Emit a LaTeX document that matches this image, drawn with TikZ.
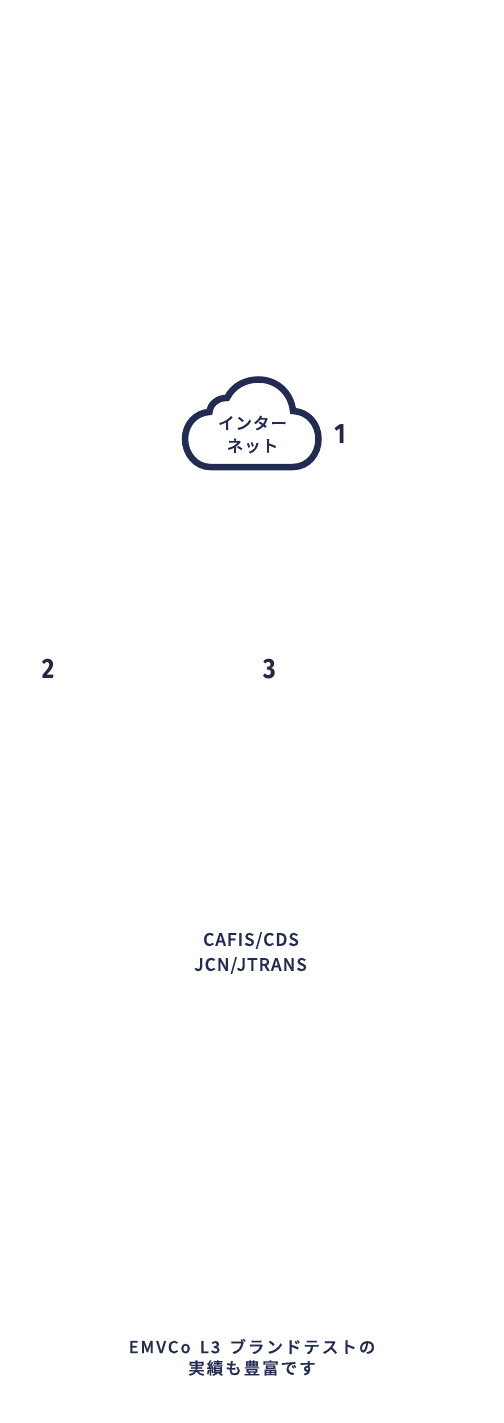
\documentclass[tikz,border=0pt]{standalone}
\usepackage{fontspec}
\newfontfamily\jpa[LetterSpace=6,FakeBold=0.5]{Noto Sans CJK JP Medium}
\newfontfamily\jpb[LetterSpace=12,WordSpace=1.6,FakeBold=0.5]{Noto Sans CJK JP Medium}
\newfontfamily\numf[FakeStretch=0.86]{Fira Sans}
\definecolor{navy}{HTML}{222B52}
\definecolor{plum}{HTML}{2F2145}
\tikzset{
  lab/.style={text=navy,inner sep=0pt,anchor=center},
  labelA/.style={lab,font=\jpa\fontsize{16.5}{20}\selectfont},
  labelL/.style={lab,font=\jpa\fontsize{17.2}{20}\selectfont},
  labelB/.style={lab,font=\jpb\fontsize{16.5}{20}\selectfont},
  num/.style={text=plum,inner sep=0pt,anchor=center,font=\numf\bfseries\fontsize{28}{30}\selectfont},
  cloud/.style={draw=navy,line width=6.5pt,line join=miter}
}
\begin{document}
\begin{tikzpicture}[x=1pt,y=-1pt]
\useasboundingbox (0,0) rectangle (503,1423);
\draw[cloud] (210,467) -- (293,467)
  .. controls (308,467) and (318.5,454) .. (318.5,439)
  .. controls (318.5,424) and (308,411.5) .. (293,411)
  .. controls (291,392) and (276,379.5) .. (258.5,379.5)
  .. controls (245,379.5) and (233,386) .. (227,398)
  .. controls (218,397.5) and (210,404) .. (209.5,412)
  .. controls (196,412.5) and (185,424) .. (185,439)
  .. controls (185,454) and (196,467) .. (210,467) -- cycle;
\node[labelA] (t1) at (252.5,423) {インター};
\node[labelA] (t2) at (252.5,446) {ネット};
\node[num] (n1) at (340,434) {1};
\node[num] (n2) at (48,669) {2};
\node[num] (n3) at (269.5,669) {3};
\node[labelL] (t3) at (251,940.5) {CAFIS/CDS};
\node[labelL] (t4) at (250.5,965.5) {JCN/JTRANS};
\node[labelB] (t5) at (252,1346.5) {EMVCo L3 ブランドテストの};
\node[labelB] (t6) at (252,1368) {実績も豊富です};
\end{tikzpicture}
\end{document}
